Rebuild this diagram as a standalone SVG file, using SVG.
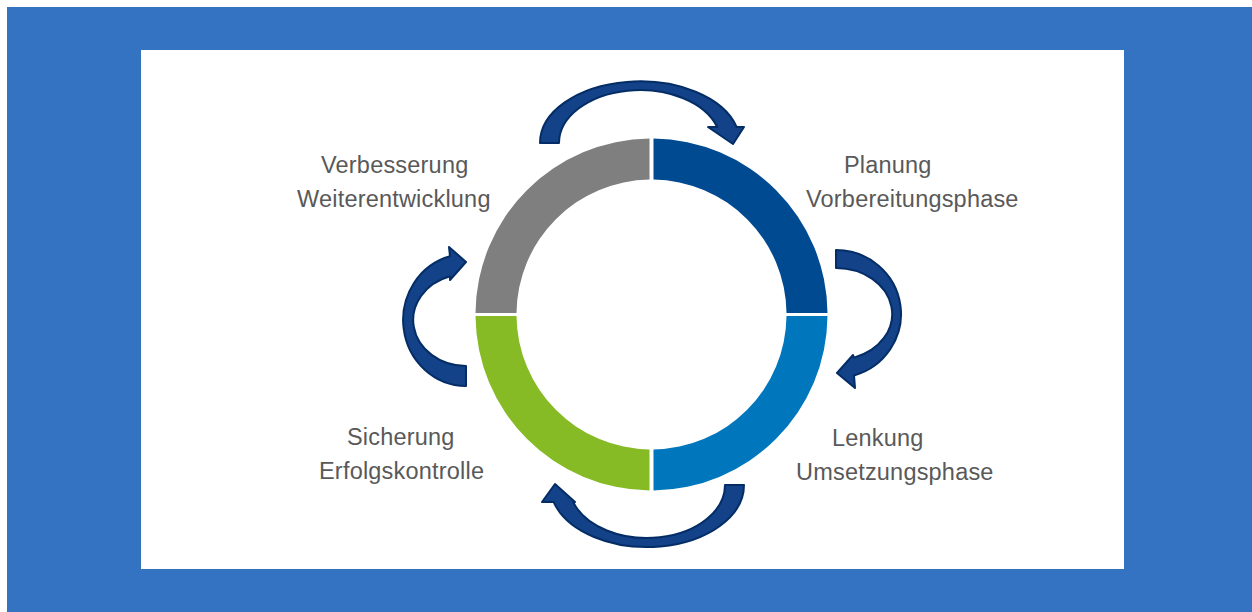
<svg xmlns="http://www.w3.org/2000/svg" width="1252" height="612" viewBox="0 0 1252 612">
  <style>
    .lbl { font-family: "Liberation Sans", Arial, sans-serif; font-size: 23.5px; letter-spacing: 0.2px; fill: #595959; }
    .arrow { fill: #134289; stroke: #042d66; stroke-width: 2; stroke-linejoin: round; }
  </style>
  <rect x="0" y="0" width="1252" height="612" fill="#ffffff"/>
  <rect x="7" y="7" width="1245" height="605" fill="#3473c2"/>
  <rect x="141" y="50" width="983" height="519" fill="#ffffff"/>

  <g id="node-planung">
    <path d="M 653.5,138.5 A 176 176 0 0 1 827.5,313 L 786.5,313 A 135 135 0 0 0 653.5,179.5 Z" fill="#004a92"/>
    <text class="lbl" x="844" y="173">Planung</text>
    <text class="lbl" x="806" y="207">Vorbereitungsphase</text>
  </g>
  <g id="node-lenkung">
    <path d="M 827.5,316 A 176 176 0 0 1 653.5,490.5 L 653.5,449.5 A 135 135 0 0 0 786.5,316 Z" fill="#0077bd"/>
    <text class="lbl" x="832" y="446">Lenkung</text>
    <text class="lbl" x="796" y="480">Umsetzungsphase</text>
  </g>
  <g id="node-sicherung">
    <path d="M 649.5,490.5 A 176 176 0 0 1 475.5,316 L 516.5,316 A 135 135 0 0 0 649.5,449.5 Z" fill="#86bb26"/>
    <text class="lbl" x="347" y="445">Sicherung</text>
    <text class="lbl" x="319" y="479">Erfolgskontrolle</text>
  </g>
  <g id="node-verbesserung">
    <path d="M 475.5,313 A 176 176 0 0 1 649.5,138.5 L 649.5,179.5 A 135 135 0 0 0 516.5,313 Z" fill="#7f7f7f"/>
    <text class="lbl" x="321" y="173">Verbesserung</text>
    <text class="lbl" x="297" y="207">Weiterentwicklung</text>
  </g>

  <g id="connectors">
    <path class="arrow" d="M 540,143 A 100 61.5 0 0 1 736.6,127 L 744,127 L 733,144 L 708,127 L 717.2,127 A 81 53 0 0 0 559,143 Z"/>
    <path class="arrow" d="M 836,250 A 65 64 0 0 1 854,375.5 L 855,388 L 837,373 L 853,355 L 854,357.6 A 56 46 0 0 0 836,268 Z"/>
    <path class="arrow" d="M 744,485 A 97 62 0 0 1 553.7,502 L 542,502 L 555,484 L 575,502 L 573.1,502 A 78 53 0 0 0 725,485 Z"/>
    <path class="arrow" d="M 466,386 A 63 66 0 0 1 450,256.2 L 449,247 L 466,262 L 450,280 L 450,276.2 A 53 46 0 0 0 466,366 Z"/>
  </g>
</svg>
